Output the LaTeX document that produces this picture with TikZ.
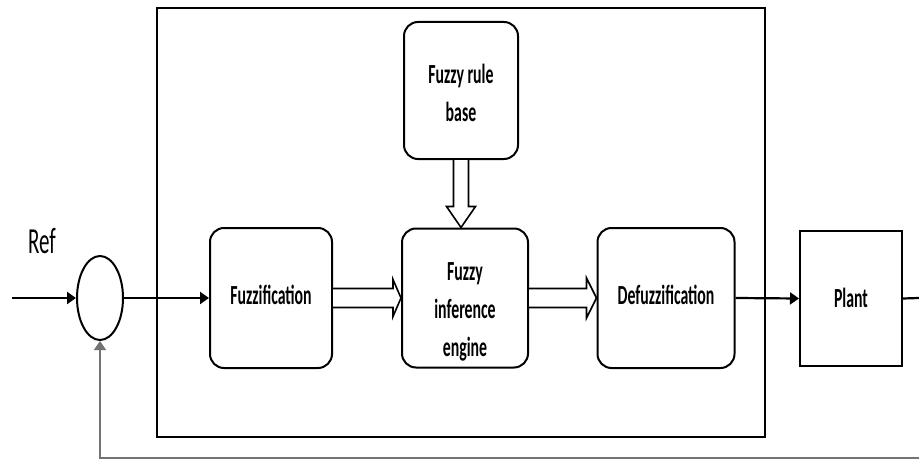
\documentclass[tikz,border=0pt]{standalone}
\usepackage{fontspec}
\setmainfont{Carlito}
\usetikzlibrary{arrows.meta,shapes.geometric,calc}
\newcommand\vstretch[1]{\scalebox{1}[1.75]{\begin{tabular}{@{}c@{}}#1\end{tabular}}}
\begin{document}
\begin{tikzpicture}[x=1pt,y=-1pt,
  blk/.style={draw, line width=2pt, rounded corners=14pt, inner sep=0pt},
  lbl/.style={font=\fontsize{15.8}{21.5}\selectfont\bfseries, inner sep=0pt},
  ln/.style={line width=2.2pt},
  arr/.style={ln, -{Triangle[length=9pt,width=12pt]}},
  fbk/.style={line width=1.8pt, draw=black!55, -{Triangle[length=9pt,width=12pt]}},
  dbl/.style={draw, line width=1.6pt, fill=white, line join=miter}]
\useasboundingbox (0,0) rectangle (919,460);
% outer controller frame
\node[draw, line width=2pt, minimum width=608pt, minimum height=429pt, inner sep=0pt] (outer) at (461,222.5) {};
% blocks
\node[blk, minimum width=114pt, minimum height=137pt] (rule) at (461,90.5) {};
\node[blk, minimum width=122pt, minimum height=140pt] (fuzz) at (271,298) {};
\node[blk, minimum width=126pt, minimum height=139pt] (inf) at (465,298) {};
\node[blk, minimum width=137pt, minimum height=140pt] (defuzz) at (666,298) {};
\node[draw, line width=2pt, minimum width=102pt, minimum height=135pt, inner sep=0pt] (plant) at (851,298.5) {};
\node[draw, line width=2pt, ellipse, minimum width=46pt, minimum height=84pt, inner sep=0pt] (sum) at (100,298) {};
% labels
\node[lbl] (rulet) at (461,95) {\vstretch{Fuzzy rule\\base}};
\node[lbl] (fuzzt) at (271,297) {\vstretch{Fuzzification}};
\node[lbl] (inft) at (465,311) {\vstretch{Fuzzy\\inference\\engine}};
\node[lbl] (defuzzt) at (666,297) {\vstretch{Defuzzification}};
\node[lbl] (plantt) at (851,300) {\vstretch{Plant}};
\node[font=\fontsize{21}{24}\selectfont, inner sep=0pt] (ref) at (42,245) {\vstretch{Ref}};
% coordinates
\coordinate (in) at (12,298);
\coordinate (out) at (919,298);
\coordinate (fb) at (919,458);
% connectors
\draw[arr] (in) -- (sum.west);
\draw[arr] (sum.east) -- (fuzz.west);
\draw[arr] (defuzz.east) -- (plant.west);
\draw[ln] (plant.east) -- (out);
\draw[fbk] (fb) -| (sum.south);
% double (hollow) arrows
\draw[dbl] ($(fuzz.east)+(0,-9.5)$) -- ($(inf.west)+(-8,-9.5)$) -- ($(inf.west)+(-8,-18.5)$) -- (inf.west)
  -- ($(inf.west)+(-8,18.5)$) -- ($(inf.west)+(-8,9.5)$) -- ($(fuzz.east)+(0,9.5)$);
\draw[dbl] ($(inf.east)+(0,-9.5)$) -- ($(defuzz.west)+(-10,-9.5)$) -- ($(defuzz.west)+(-10,-20)$) -- (defuzz.west)
  -- ($(defuzz.west)+(-10,20)$) -- ($(defuzz.west)+(-10,9.5)$) -- ($(inf.east)+(0,9.5)$);
\coordinate (tip) at (rule.south |- inf.north);
\draw[dbl] ($(rule.south)+(-7.5,0)$) -- ($(tip)+(-7.5,-21)$) -- ($(tip)+(-14.5,-21)$) -- (tip)
  -- ($(tip)+(14.5,-21)$) -- ($(tip)+(7.5,-21)$) -- ($(rule.south)+(7.5,0)$);
\end{tikzpicture}
\end{document}
